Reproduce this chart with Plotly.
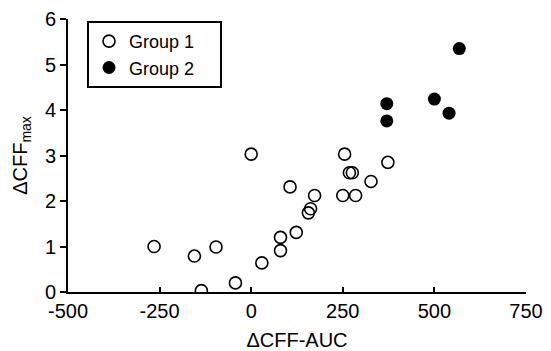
import plotly.graph_objects as go

g1_x = [-265, -155, -96, -136, -43, 29, 80, 80, 123, 156, 162, 173, 106, 250, 285, 327, 268, 276, 255, 373, 0]
g1_y = [1.0, 0.79, 0.99, 0.03, 0.2, 0.64, 1.2, 0.91, 1.31, 1.74, 1.83, 2.12, 2.31, 2.12, 2.12, 2.43, 2.62, 2.62, 3.03, 2.85, 3.03]

g2_x = [568, 370, 370, 500, 540]
g2_y = [5.35, 4.14, 3.76, 4.24, 3.93]

x_ticks = [-500, -250, 0, 250, 500, 750]
y_ticks = [0, 1, 2, 3, 4, 5, 6]

pad = "\u00a0" * 4

fig = go.Figure()
fig.add_trace(go.Scatter(
    x=g1_x, y=g1_y, mode="markers", name="Group 1" + pad,
    marker=dict(symbol="circle-open", size=12, color="black", line=dict(width=1.6, color="black")),
))
fig.add_trace(go.Scatter(
    x=g2_x, y=g2_y, mode="markers", name="Group 2" + pad,
    marker=dict(symbol="circle", size=13, color="black", line=dict(width=0)),
))

font = dict(family="Liberation Sans, Arial, sans-serif", size=20, color="black")

fig.update_layout(
    width=551, height=351,
    margin=dict(l=68, r=25, t=19, b=59, autoexpand=False),
    plot_bgcolor="white", paper_bgcolor="white",
    font=font,
    showlegend=True,
    legend=dict(
        x=0.0415, y=0.993, xanchor="left", yanchor="top",
        bordercolor="black", borderwidth=2, bgcolor="white",
        font=dict(family="Liberation Sans, Arial, sans-serif", size=18, color="black"),
        itemwidth=30,
    ),
    xaxis=dict(
        range=[-500, 750], tickvals=x_ticks, ticktext=[str(v) for v in x_ticks],
        showline=True, linewidth=2, linecolor="black", mirror=False,
        ticks="inside", ticklen=5, tickwidth=2, tickcolor="black",
        showgrid=False, zeroline=False, automargin=False,
        title=dict(text="ΔCFF-AUC", font=font, standoff=12),
        tickfont=font,
    ),
    yaxis=dict(
        range=[0, 6], tickvals=y_ticks,
        showline=True, linewidth=2, linecolor="black",
        ticks="outside", ticklen=6, tickwidth=2, tickcolor="black",
        showgrid=False, zeroline=False, automargin=False,
        title=dict(text="ΔCFF<sub>max</sub>", font=font, standoff=12),
        tickfont=font,
    ),
)

fig.write_html("out.html")
